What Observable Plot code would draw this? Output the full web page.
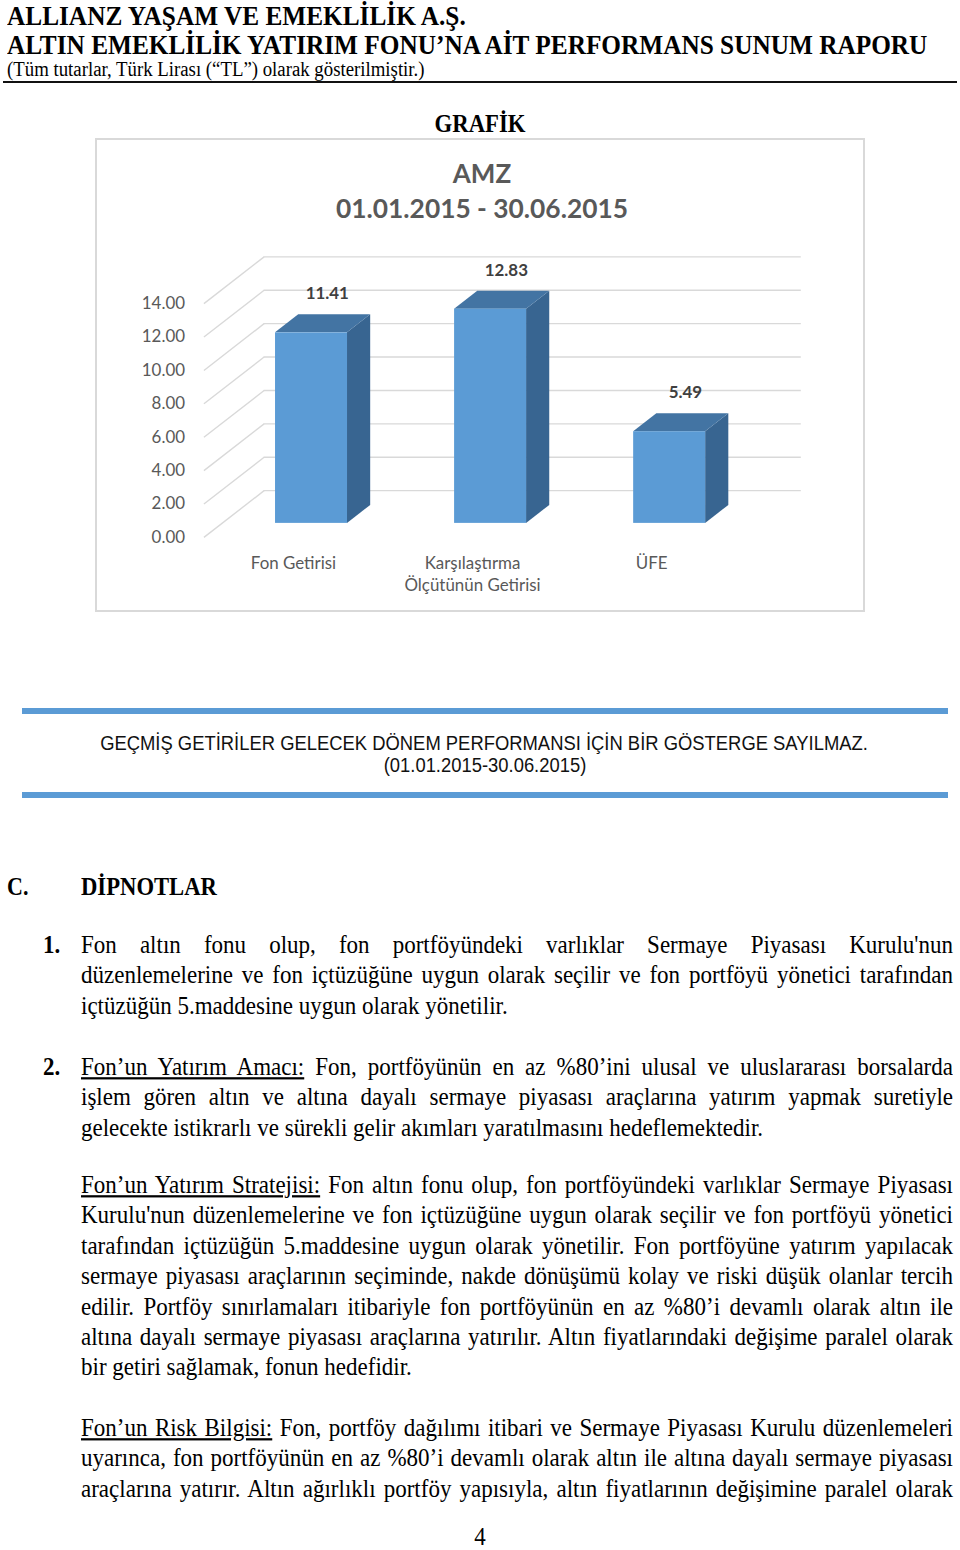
<!DOCTYPE html>
<html><head><meta charset="utf-8">
<script src="https://cdn.jsdelivr.net/npm/d3@7"></script>
<script src="https://cdn.jsdelivr.net/npm/@observablehq/plot@0.6"></script>
<style>
html,body{margin:0;padding:0;background:#fff;}
#page{position:relative;width:960px;height:1550px;overflow:hidden;background:#fff;}
.t{position:absolute;white-space:nowrap;line-height:0;}
#chartbox{position:absolute;left:95px;top:138px;width:770px;height:474px;box-sizing:border-box;border:2px solid #d9d9d9;}
#chartbox svg{position:absolute;left:-2px;top:-2px;}
.band{position:absolute;left:22px;width:926px;height:6px;background:#5b9bd5;}
.rule{position:absolute;left:3px;width:954px;height:2px;background:#111;top:81px;}
</style></head><body>
<div id="page"><div class="rule"></div><div id="chartbox"></div>
<div class="band" style="top:708px"></div><div class="band" style="top:792px"></div></div>
<script>
// ---------- chart data ----------
const categories = ["Fon Getirisi", "Karşılaştırma\nÖlçütünün Getirisi", "ÜFE"];
const values = [11.41, 12.83, 5.49];
const yTicks = [0, 2, 4, 6, 8, 10, 12, 14];
const chartTitle = ["AMZ", "01.01.2015 - 30.06.2015"];

// ---------- page texts ----------
const headerLines = ["ALLIANZ YAŞAM VE EMEKLİLİK A.Ş.", "ALTIN EMEKLİLİK YATIRIM FONU’NA AİT PERFORMANS SUNUM RAPORU"];
const headerNote = "(Tüm tutarlar, Türk Lirası (“TL”) olarak gösterilmiştir.)";
const sectionTitle = "GRAFİK";
const disclaimer = ["GEÇMİŞ GETİRİLER GELECEK DÖNEM PERFORMANSI İÇİN BİR GÖSTERGE SAYILMAZ.", "(01.01.2015-30.06.2015)"];
const notesTitle = ["C.", "DİPNOTLAR"];
const para1 = ["Fon altın fonu olup, fon portföyündeki varlıklar Sermaye Piyasası Kurulu'nun",
  "düzenlemelerine ve fon içtüzüğüne uygun olarak seçilir ve fon portföyü yönetici tarafından",
  "içtüzüğün 5.maddesine uygun olarak yönetilir."];
const para2 = ["<u>Fon’un Yatırım Amacı:</u> Fon, portföyünün en az %80’ini ulusal ve uluslararası borsalarda",
  "işlem gören altın ve altına dayalı sermaye piyasası araçlarına yatırım yapmak suretiyle",
  "gelecekte istikrarlı ve sürekli gelir akımları yaratılmasını hedeflemektedir."];
const para3 = ["<u>Fon’un Yatırım Stratejisi:</u> Fon altın fonu olup, fon portföyündeki varlıklar Sermaye Piyasası",
  "Kurulu'nun düzenlemelerine ve fon içtüzüğüne uygun olarak seçilir ve fon portföyü yönetici",
  "tarafından içtüzüğün 5.maddesine uygun olarak yönetilir. Fon portföyüne yatırım yapılacak",
  "sermaye piyasası araçlarının seçiminde, nakde dönüşümü kolay ve riski düşük olanlar tercih",
  "edilir. Portföy sınırlamaları itibariyle fon portföyünün en az %80’i devamlı olarak altın ile",
  "altına dayalı sermaye piyasası araçlarına yatırılır. Altın fiyatlarındaki değişime paralel olarak",
  "bir getiri sağlamak, fonun hedefidir."];
const para4 = ["<u>Fon’un Risk Bilgisi:</u> Fon, portföy dağılımı itibari ve Sermaye Piyasası Kurulu düzenlemeleri",
  "uyarınca, fon portföyünün en az %80’i devamlı olarak altın ile altına dayalı sermaye piyasası",
  "araçlarına yatırır. Altın ağırlıklı portföy yapısıyla, altın fiyatlarının değişimine paralel olarak"];
const pageNumber = "4";

// ---------- text helpers ----------
const page = document.getElementById("page");
const SERIF = '"Liberation Serif","Times New Roman",serif';
const SANS = '"Liberation Sans",Arial,sans-serif';
function txt(html, o, parent) {
  const d = document.createElement("div");
  d.className = "t";
  d.innerHTML = html;
  d.style.left = o.x + "px";
  d.style.top = o.y + "px";
  d.style.fontSize = (o.size || 22) + "px";
  d.style.fontFamily = o.family || SERIF;
  d.style.fontWeight = o.bold ? "bold" : "normal";
  d.style.color = o.color || "#000";
  d.style.transform = (o.center ? "translateX(-50%) " : "") + "scaleY(" + (o.sy || 1.12) + ")";
  (parent || page).appendChild(d);
  if (o.fit) {
    const w = d.getBoundingClientRect().width;
    d.style.fontSize = (parseFloat(d.style.fontSize) * o.fit / w) + "px";
  }
  if (o.justify) {
    const w = d.getBoundingClientRect().width;
    const n = (d.textContent.match(/ /g) || []).length;
    if (n) d.style.wordSpacing = ((o.justify - w) / n) + "px";
  }
  return d;
}

txt(headerLines[0], {x: 7, y: 15, size: 25, bold: true, fit: 459});
txt(headerLines[1], {x: 7, y: 44, size: 25, bold: true, fit: 921});
txt(headerNote, {x: 7, y: 69, size: 18, fit: 418});
txt(sectionTitle, {x: 480, y: 124, size: 22, bold: true, center: true, fit: 91});
const disc = txt(disclaimer[0], {x: 484, y: 743, size: 17, family: SANS, center: true, fit: 768, color: "#111"});
txt(disclaimer[1], {x: 485, y: 765, size: parseFloat(disc.style.fontSize), family: SANS, center: true, color: "#111"});
txt(notesTitle[0], {x: 7, y: 887, size: 22, bold: true});
txt(notesTitle[1], {x: 81, y: 887, size: 22, bold: true, fit: 136});

// body font size fitted from a non-justified line
const probe = txt(para1[2], {x: -2000, y: 0, size: 22, fit: 427});
const BODY = parseFloat(probe.style.fontSize);
probe.remove();
const LH = 30.4, TEXT_W = 872;
function para(lines, y0, lastJustified) {
  lines.forEach((l, k) => {
    const last = k === lines.length - 1 && !lastJustified;
    txt(l, {x: 81, y: y0 + k * LH, size: BODY, justify: last ? null : TEXT_W});
  });
}
txt("1.", {x: 43, y: 944, size: BODY, bold: true});
para(para1, 944, false);
txt("2.", {x: 43, y: 1066, size: BODY, bold: true});
para(para2, 1066, false);
para(para3, 1184, false);
para(para4, 1427, true);
txt(pageNumber, {x: 480, y: 1536, size: BODY, center: true, sy: 1.08});

// ---------- chart ----------
const box = document.getElementById("chartbox");
const LATO = "Lato, 'Open Sans', sans-serif";
txt(chartTitle[0], {x: 385, y: 33, size: 26, bold: true, family: LATO, color: "#595959", center: true, sy: 1}, box);
txt(chartTitle[1], {x: 385, y: 68, size: 26, bold: true, family: LATO, color: "#595959", center: true, sy: 1, fit: 292}, box);

const W = 770, H = 474;
const dxF = 61 / 181.5;   // floor depth, in category-band units
const dyF = 2.8;          // floor depth, in value units
const d0 = 0.3, bd = 0.385, hw = 0.201;
const bars = values.map((v, i) => ({
  name: categories[i], i, v,
  L: i + 0.5 - hw + d0 * dxF, R: i + 0.5 + hw + d0 * dxF, b: d0 * dyF
}));
const topFaces = bars.flatMap(b => [
  {name: b.name, y: b.v + b.b, x1: b.L, x2: b.R},
  {name: b.name, y: b.v + b.b + bd * dyF, x1: b.L + bd * dxF, x2: b.R + bd * dxF}
]);
const sideFaces = bars.flatMap(b => [
  {name: b.name, x: b.R, y1: b.b, y2: b.v + b.b},
  {name: b.name, x: b.R + bd * dxF, y1: b.b + bd * dyF, y2: b.v + b.b + bd * dyF}
]);
const grid = "#d9d9d9";
const chart = Plot.plot({
  width: W, height: H,
  marginLeft: 109, marginRight: 121, marginTop: 166, marginBottom: 73,
  x: {type: "linear", domain: [0, 3], axis: null},
  y: {type: "linear", domain: [0, 14]},
  style: {fontFamily: LATO, fontSize: "17px", color: "#595959", background: "none", overflow: "visible"},
  marks: [
    Plot.link(yTicks, {x1: 0, y1: d => d, x2: dxF, y2: d => d + dyF, stroke: grid, strokeWidth: 1.4}),
    Plot.ruleY(yTicks, {y: d => d + dyF, x1: dxF, x2: 3 + dxF, stroke: grid, strokeWidth: 1.4}),
    Plot.axisY({ticks: yTicks, tickFormat: d3.format(".2f"), tickSize: 0, tickPadding: 19, label: null, fill: "#595959", fontSize: 17}),
    Plot.areaY(sideFaces, {x: "x", y1: "y1", y2: "y2", z: "name", fill: "#386591"}),
    Plot.areaX(topFaces, {y: "y", x1: "x1", x2: "x2", z: "name", fill: "#4374a3"}),
    Plot.rect(bars, {x1: "L", x2: "R", y1: "b", y2: d => d.v + d.b, fill: "#5b9bd5"}),
    Plot.text(bars, {x: d => d.i + 0.5 + (d0 + 0.68 * bd) * dxF, y: d => d.v + d.b + bd * dyF, dy: -21,
      text: d => d3.format(".2f")(d.v), fontWeight: "bold", fontSize: 17, fill: "#404040"}),
    Plot.text(bars, {x: d => d.i + 0.5, y: 0, text: "name", lineAnchor: "top", dy: 15, lineHeight: 1.35,
      fontSize: 17, fill: "#595959"})
  ]
});
box.appendChild(chart);
</script>
</body></html>
